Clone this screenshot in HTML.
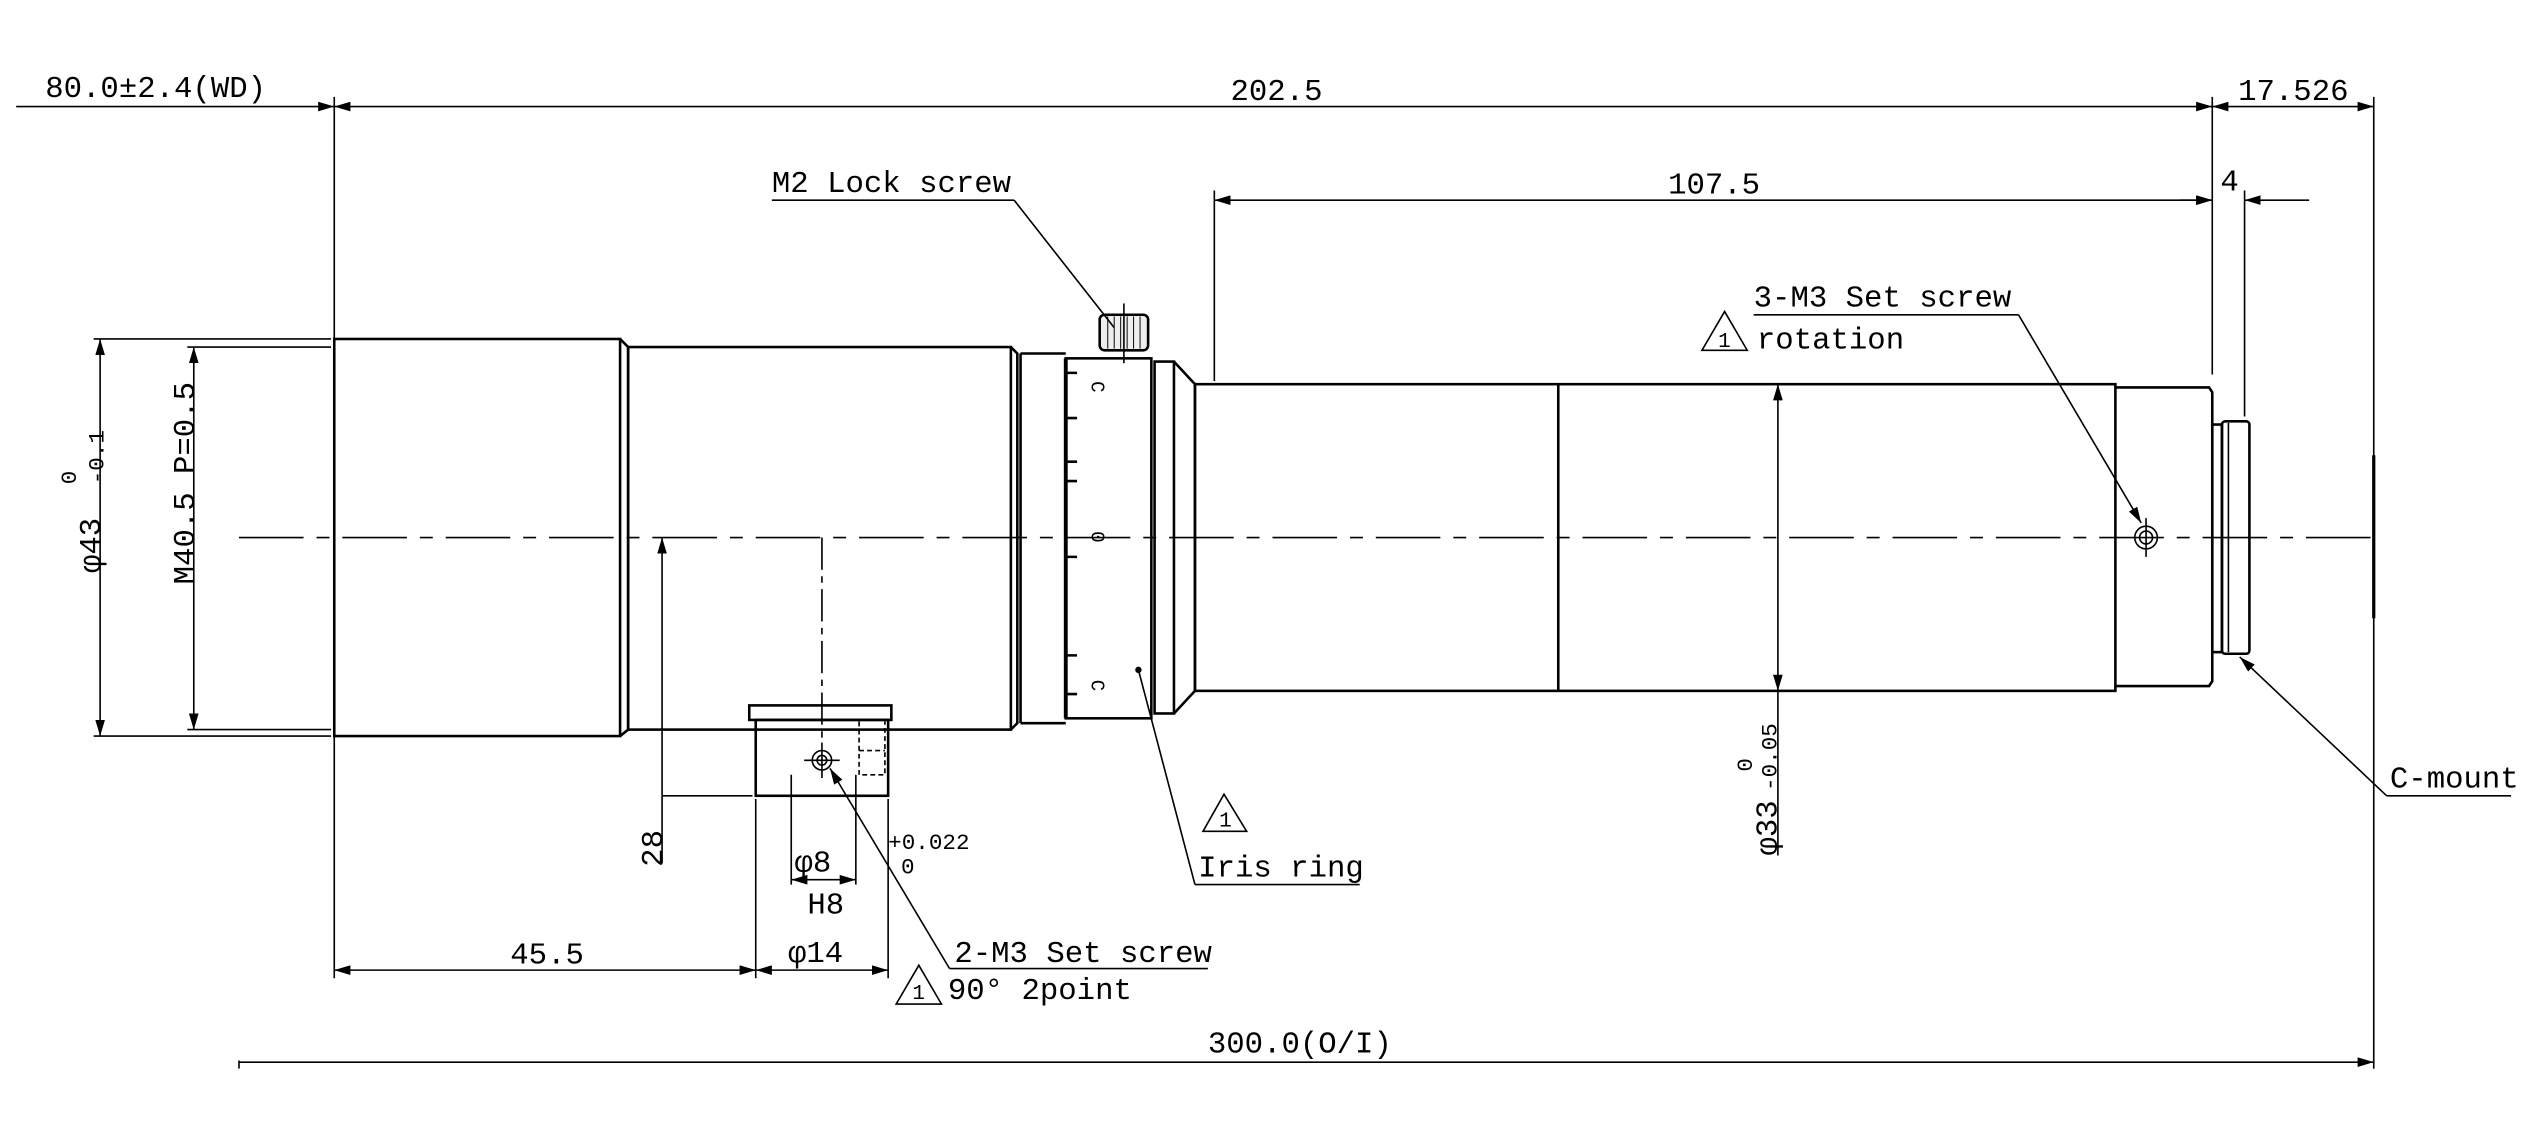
<!DOCTYPE html>
<html><head><meta charset="utf-8"><style>
html,body{margin:0;padding:0;background:#fff;}
svg{display:block;}
text{font-family:"Liberation Mono","Noto Sans CJK JP",monospace;fill:#000;}
</style></head><body>
<svg width="2532" height="1138" viewBox="0 0 1568 705" preserveAspectRatio="none" xmlns="http://www.w3.org/2000/svg">
<defs>
<marker id="a" markerWidth="10" markerHeight="6" refX="10" refY="3" orient="auto-start-reverse" markerUnits="userSpaceOnUse"><path d="M0,0 L10,3 L0,6 z" fill="#000"/></marker>
</defs>
<g stroke="#000" fill="none" stroke-width="1">
<!-- extension lines -->
<line x1="207" y1="60" x2="207" y2="606"/>
<line x1="1370" y1="60" x2="1370" y2="232"/>
<line x1="1470" y1="60" x2="1470" y2="662"/>
<line x1="1470" y1="282" x2="1470" y2="383" stroke-width="2"/>
<line x1="752" y1="118" x2="752" y2="236"/>
<line x1="1390" y1="118" x2="1390" y2="258"/>
<line x1="148" y1="657" x2="148" y2="662"/>
<!-- top dims -->
<line x1="10" y1="66" x2="207" y2="66" marker-end="url(#a)"/>
<line x1="207" y1="66" x2="1370" y2="66" marker-start="url(#a)" marker-end="url(#a)"/>
<line x1="1370" y1="66" x2="1470" y2="66" marker-start="url(#a)" marker-end="url(#a)"/>
<line x1="752" y1="124" x2="1370" y2="124" marker-start="url(#a)" marker-end="url(#a)"/>
<line x1="1350" y1="124" x2="1370" y2="124" marker-end="url(#a)"/>
<line x1="1430" y1="124" x2="1390" y2="124" marker-end="url(#a)"/>
<!-- left dims -->
<line x1="58" y1="210" x2="205" y2="210"/>
<line x1="58" y1="456" x2="205" y2="456"/>
<line x1="62" y1="210" x2="62" y2="456" marker-start="url(#a)" marker-end="url(#a)"/>
<line x1="116" y1="215" x2="205" y2="215"/>
<line x1="116" y1="452" x2="205" y2="452"/>
<line x1="120" y1="215" x2="120" y2="452" marker-start="url(#a)" marker-end="url(#a)"/>
<!-- center line -->
<line x1="148" y1="333" x2="1470" y2="333" stroke-dasharray="40,8,8,8"/>
<!-- body -->
<g stroke-width="1.6">
<rect x="207" y="210" width="177" height="246"/>
<path d="M384,210 L389,215 L389,452 L384,456"/>
<rect x="389" y="215" width="237" height="237"/>
<path d="M626,215 L630,219 L630,448 L626,452"/>
<line x1="632" y1="219" x2="632" y2="448"/>
<path d="M632,219 L660,219 M632,448 L660,448"/>
<rect x="660" y="222" width="53" height="223"/>
<line x1="660" y1="222" x2="660" y2="445" stroke-width="2.4"/>
<rect x="715" y="224" width="12" height="218"/>
<path d="M727,224 L740,238 L740,428 L727,442"/>
<rect x="740" y="238" width="570" height="190"/>
<line x1="965" y1="238" x2="965" y2="428"/>
<path d="M1310,240 L1368,240 L1370,243 L1370,422 L1368,425 L1310,425"/>
<rect x="1370" y="263" width="6" height="141"/>
<rect x="1376" y="261" width="17" height="144" rx="2"/>
<line x1="1380" y1="262" x2="1380" y2="404" stroke-width="1"/>
<!-- lock screw -->
<rect x="681" y="195" width="30" height="22" rx="3" fill="#eee"/>
<!-- mount block -->
<rect x="468" y="446" width="82" height="47"/>
<rect x="464" y="437" width="88" height="9"/>
</g>
<g stroke-width="0.6">
<line x1="686" y1="196" x2="686" y2="216"/><line x1="690" y1="196" x2="690" y2="216"/><line x1="694" y1="196" x2="694" y2="216"/><line x1="698" y1="196" x2="698" y2="216"/><line x1="702" y1="196" x2="702" y2="216"/><line x1="706" y1="196" x2="706" y2="216"/>
</g>
<line x1="696" y1="188" x2="696" y2="225"/>
<!-- ring ticks -->
<path d="M660,231 L667,231 M660,259 L667,259 M660,298 L667,298 M660,345 L667,345 M660,406 L667,406 M660,430 L667,430 M660,286 L667,286" stroke-width="1.6"/>
<circle cx="705" cy="415" r="1.5" fill="#000"/>
<!-- block details -->
<circle cx="509" cy="471" r="6"/><circle cx="509" cy="471" r="3"/>
<line x1="509" y1="460" x2="509" y2="482"/><line x1="498" y1="471" x2="520" y2="471"/>
<path d="M532,447 L532,480 L548,480 L548,447" stroke-dasharray="3,2"/>
<line x1="532" y1="465" x2="548" y2="465" stroke-dasharray="3,2"/>
<line x1="509" y1="333" x2="509" y2="460" stroke-dasharray="20,4,4,4"/>
<!-- 28 dim -->
<line x1="410" y1="493" x2="466" y2="493"/>
<line x1="410" y1="333" x2="410" y2="493" marker-start="url(#a)"/>
<line x1="410" y1="493" x2="410" y2="535"/>
<!-- bottom dims -->
<line x1="468" y1="495" x2="468" y2="606"/>
<line x1="550" y1="495" x2="550" y2="606"/>
<line x1="490" y1="480" x2="490" y2="548"/>
<line x1="530" y1="480" x2="530" y2="548"/>
<line x1="490" y1="545" x2="530" y2="545" marker-start="url(#a)" marker-end="url(#a)"/>
<line x1="207" y1="601" x2="468" y2="601" marker-start="url(#a)" marker-end="url(#a)"/>
<line x1="468" y1="601" x2="550" y2="601" marker-start="url(#a)" marker-end="url(#a)"/>
<line x1="148" y1="658" x2="1470" y2="658" marker-end="url(#a)"/>
<!-- phi33 -->
<line x1="1101" y1="238" x2="1101" y2="428" marker-start="url(#a)" marker-end="url(#a)"/>
<line x1="1101" y1="428" x2="1101" y2="530"/>
<!-- set screw right -->
<circle cx="1329" cy="333" r="7"/><circle cx="1329" cy="333" r="4"/>
<line x1="1329" y1="321" x2="1329" y2="345"/>
<!-- leaders -->
<line x1="478" y1="124" x2="628" y2="124"/>
<line x1="628" y1="124" x2="690" y2="203"/>
<line x1="1086" y1="195" x2="1250" y2="195"/>
<line x1="1250" y1="195" x2="1326" y2="324" marker-end="url(#a)"/>
<line x1="1478" y1="493" x2="1555" y2="493"/>
<line x1="1478" y1="493" x2="1387" y2="407" marker-end="url(#a)"/>
<line x1="705" y1="415" x2="740" y2="548"/>
<line x1="740" y1="548" x2="842" y2="548"/>
<line x1="588" y1="600" x2="748" y2="600"/>
<line x1="588" y1="600" x2="514" y2="476" marker-end="url(#a)"/>
<!-- triangles -->
<path d="M1054,217 L1068,193 L1082,217 Z"/>
<path d="M745,515 L758,492 L772,515 Z"/>
<path d="M555,622 L569,598 L583,622 Z"/>
</g>
<g font-size="19">
<text x="28" y="60">80.0±2.4(WD)</text>
<text x="762" y="62">202.5</text>
<text x="1386" y="62">17.526</text>
<text x="1033" y="120">107.5</text>
<text x="1375" y="118">4</text>
<text x="478" y="119">M2 Lock screw</text>
<text x="1086" y="190">3-M3 Set screw</text>
<text x="1088" y="216">rotation</text>
<text x="1064" y="215" font-size="13">1</text>
<text x="1480" y="488">C-mount</text>
<text x="742" y="543">Iris ring</text>
<text x="755" y="512" font-size="13">1</text>
<text x="591" y="596">2-M3 Set screw</text>
<text x="587" y="619">90° 2point</text>
<text x="565" y="619" font-size="13">1</text>
<text x="316" y="597">45.5</text>
<text x="488" y="596">φ14</text>
<text x="492" y="540">φ8</text>
<text x="500" y="566">H8</text>
<text x="550" y="526" font-size="14">+0.022</text>
<text x="558" y="541" font-size="14">0</text>
<text x="748" y="652">300.0(O/I)</text>
<text transform="translate(410,537) rotate(-90)">28</text>
<text transform="translate(62,355) rotate(-90)">φ43</text>
<text transform="translate(47,300) rotate(-90)" font-size="14">0</text>
<text transform="translate(64,300) rotate(-90)" font-size="14">-0.1</text>
<text transform="translate(120,362) rotate(-90)">M40.5 P=0.5</text>
<text transform="translate(1100,530) rotate(-90)">φ33</text>
<text transform="translate(1085,478) rotate(-90)" font-size="14">0</text>
<text transform="translate(1100,490) rotate(-90)" font-size="14">-0.05</text>
<text transform="translate(676,236) rotate(90)" font-size="12">C</text>
<text transform="translate(676,329) rotate(90)" font-size="12">0</text>
<text transform="translate(676,421) rotate(90)" font-size="12">C</text>
</g>
</svg>
</body></html>
